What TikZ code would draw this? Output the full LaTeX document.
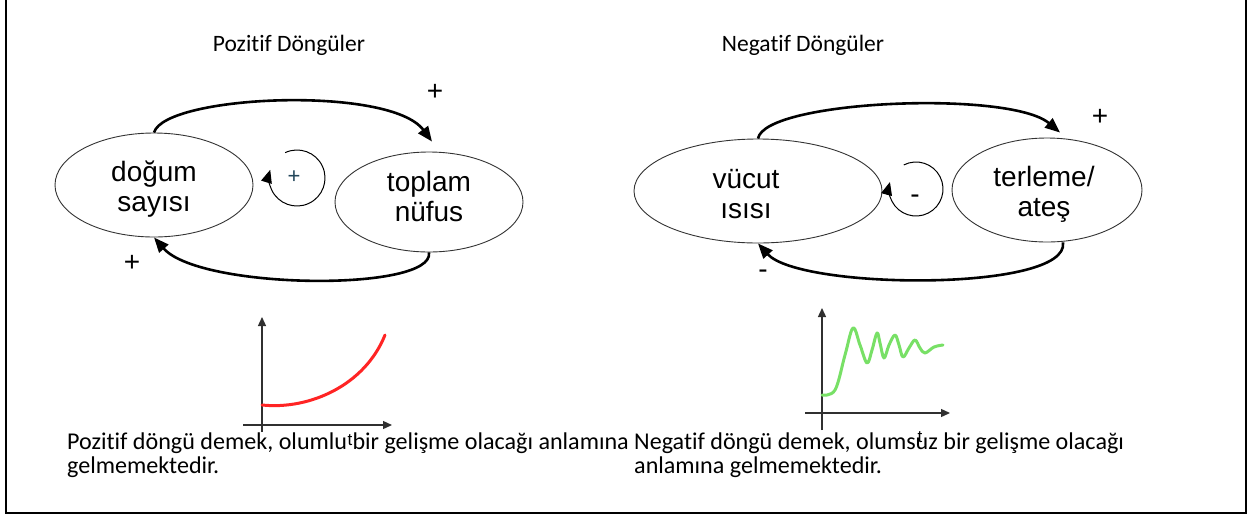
\documentclass[tikz,border=0pt]{standalone}
\usepackage{fontspec}
\setmainfont{Carlito}[Ligatures=NoCommon]
\newfontfamily\arial{Liberation Sans}
\usetikzlibrary{arrows.meta,shapes.geometric}
\definecolor{ringgray}{HTML}{333333}
\definecolor{axisgray}{HTML}{303030}
\definecolor{curvered}{HTML}{FF2424}
\definecolor{curvegreen}{HTML}{78E066}
\definecolor{signteal}{HTML}{22465A}
\tikzset{
  bubble/.style={ellipse, draw=ringgray, line width=0.9pt, inner sep=0pt},
  bubbletext/.style={inner sep=0pt, align=center, font=\arial\fontsize{28}{30}\selectfont},
  link/.style={line width=2.6pt, -{Triangle[length=15pt,width=12pt]}},
  selfloop/.style={line width=1pt, -{Triangle[length=13pt,width=11pt]}},
  sign/.style={inner sep=0pt, font=\arial\fontsize{28}{30}\selectfont},
  smallsign/.style={inner sep=0pt, font=\arial\fontsize{22}{24}\selectfont},
  heading/.style={inner sep=0pt, font=\fontsize{23.5}{26}\selectfont},
  bodytext/.style={inner sep=0pt, anchor=base west, font=\fontsize{24.1}{25}\selectfont},
  axis/.style={line width=1.3pt, draw=axisgray, -{Triangle[length=9pt,width=8pt]}},
  tlabel/.style={inner sep=0pt, font=\arial\fontsize{17}{20}\selectfont},
}
\begin{document}
\begin{tikzpicture}[x=1pt,y=1pt]
\useasboundingbox (0,0) rectangle (1248,-515);
\fill[white] (0,0) rectangle (1248,-515);
% frame
\draw[line width=2pt] (6,5) -- (6,-513) -- (1246,-513) -- (1246,5);

% titles
\node[heading] (t1) at (289,-45) {Pozitif Döngüler};
\node[heading] (t2) at (803,-45) {Negatif Döngüler};

% positive loop
\node[bubble, minimum width=198, minimum height=104] (dog) at (154,-185) {};
\node[bubbletext] (dogt) at ([yshift=-4pt]dog.center) {doğum\\sayısı};
\node[bubble, minimum width=188, minimum height=100] (top) at (429,-202) {};
\node[bubbletext] (topt) at ([yshift=6pt]top.center) {toplam\\nüfus};
\draw[link] (dog.north) .. controls (165,-95) and (390,-85) .. ([xshift=3pt,yshift=10pt]top.north);
\draw[link] (top.south) .. controls (435,-292) and (200,-290) .. (dog.south);
\node[sign] (p1) at (435,-92) {+};
\node[sign] (p2) at (132,-263) {+};
\coordinate (lp) at (297,-178);
\draw[selfloop] (lp) ++(115:28pt) arc[start angle=115, end angle=-197, radius=28pt];
\node[smallsign, text=signteal] (pl) at (294,-177) {+};

% negative loop
\node[bubble, minimum width=248, minimum height=104] (vuc) at (758,-191) {};
\node[bubbletext] (vuct) at ([xshift=-12pt,yshift=-3pt]vuc.center) {vücut\\ısısı};
\node[bubble, minimum width=190, minimum height=104] (ter) at (1047,-190) {};
\node[bubbletext] (tert) at ([xshift=-3pt,yshift=-4pt]ter.center) {terleme/\\ateş};
\draw[link] (vuc.north) .. controls (765,-100) and (1010,-90) .. ([xshift=13pt,yshift=5pt]ter.north);
\draw[link] ([xshift=16pt]ter.south) .. controls (1070,-292) and (800,-290) .. (vuc.south);
\node[sign] (n1) at (1100,-117) {+};
\node[sign] (n2) at (763,-274) {-};
\coordinate (ln) at (916,-189);
\draw[selfloop] (ln) ++(117:27pt) arc[start angle=117, end angle=-195, radius=27pt];
\node[sign] (nl) at (915,-199) {-};

% positive graph
\coordinate (pyb) at (262,-432);
\coordinate (pyt) at (262,-317);
\coordinate (pxl) at (243,-425);
\coordinate (pxr) at (392,-425);
\draw[axis] (pyb) -- (pyt);
\draw[axis] (pxl) -- (pxr);
\draw[curvered, line width=3pt, line cap=round] (262,-405) .. controls (310,-410) and (365,-385) .. (385,-335);
\node[tlabel] (pt) at (350,-440) {t};

% negative graph
\coordinate (nyb) at (822,-430);
\coordinate (nyt) at (822,-308);
\coordinate (nxl) at (805,-413);
\coordinate (nxr) at (950,-413);
\draw[axis] (nyb) -- (nyt);
\draw[axis] (nxl) -- (nxr);
\draw[curvegreen, line width=3pt, line cap=round, line join=round] plot[smooth, tension=0.6] coordinates {
 (822,-395) (835,-390) (845,-355) (853,-328) (860,-345) (867,-363) (872,-350) (877,-333)
 (880,-343) (884,-358) (889,-345) (895,-335) (899,-345) (903,-357) (909,-348) (915,-340)
 (920,-348) (925,-353) (934,-347) (943,-345)};
\node[tlabel] (nt) at (920,-437) {t};

% texts
\node[bodytext] (b1) at (67,-449) {Pozitif döngü demek, olumlu bir gelişme olacağı anlamına};
\node[bodytext] (b2) at (67,-473) {gelmemektedir.};
\node[bodytext] (b3) at (634,-449) {Negatif döngü demek, olumsuz bir gelişme olacağı};
\node[bodytext] (b4) at (634,-473) {anlamına gelmemektedir.};
\end{tikzpicture}
\end{document}
